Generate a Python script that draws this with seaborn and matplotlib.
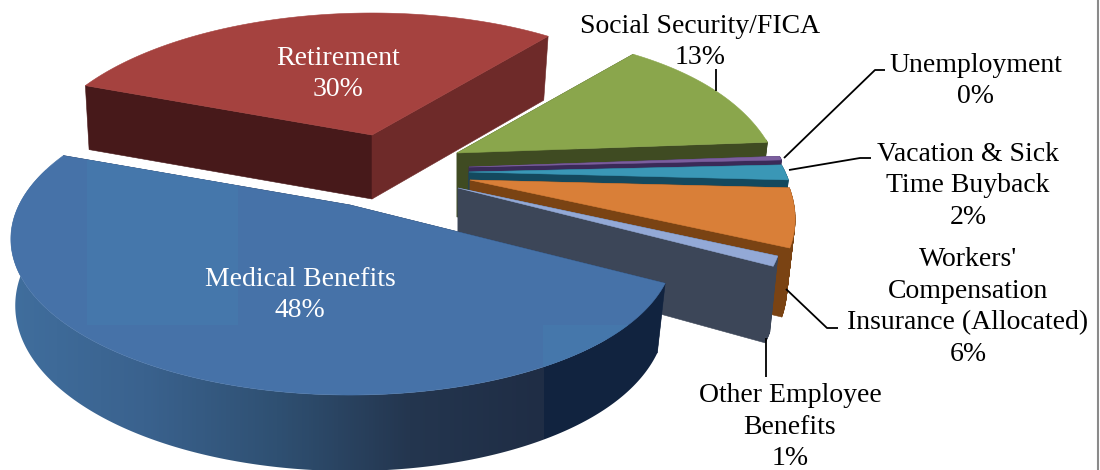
import numpy as np
import matplotlib
matplotlib.use("Agg")
import matplotlib.pyplot as plt
from matplotlib.collections import PolyCollection
from matplotlib.colors import to_rgb
from matplotlib.patches import Polygon, Rectangle
import seaborn as sns

# Share of employee benefit costs, percent (clockwise from Social Security)
categories = ["Social Security/FICA", "Unemployment", "Vacation & Sick\nTime Buyback",
              "Workers'\nCompensation\nInsurance (Allocated)",
              "Other Employee\nBenefits", "Medical Benefits", "Retirement"]
shares = [13, 0.4, 1.6, 6, 1, 48, 30]

top_colors = ["#8AA64C", "#7B5E9E", "#3A97B6", "#D97F38", "#93A9D6", "#4672A8", "#A5423F"]
face_colors = ["#3F4B22", "#3A2A58", "#14495E", "#7A4313", "#3C4658", "#1B2C48", "#47191A"]
rim_colors = ["#3F4B22", "#3A2A58", "#14495E", "#7A4313", "#3C4658", "#1B2C48", "#6E2A29"]

# Layout of the exploded pie
START_ANGLE = -51.0      # degrees, clockwise on screen from the +x ground axis
RADIUS_X, RADIUS_Y = 331.0, 148.6
PERSPECTIVE = 0.218
PIE_CENTER = (440.0, 170.0)
explode = [(17, -17), (29, -3), (29, 2), (30, 10), (18, 18), (-90, 35), (-68, -35)]
depth_scale = [1.0, 1.0, 1.0, 1.0, 1.1, 1.0, 1.0]
draw_order = [6, 0, 1, 2, 3, 4, 5]
BLUE = categories.index("Medical Benefits")
RED = categories.index("Retirement")


def project(angle_deg, apex):
    """Map ground-plane angles on the unit circle to screen positions."""
    t = np.radians(angle_deg)
    gx, gy = np.cos(t), np.sin(t)
    w = 1.0 / (1.0 - PERSPECTIVE * gy)
    # The far right of the pie is foreshortened a little
    squeeze = 1.0 - 0.045 * np.maximum(gx, 0.0) ** 3
    return apex[0] + RADIUS_X * gx * w * squeeze, apex[1] + RADIUS_Y * gy * w, gy


def thickness(gy, scale):
    return scale * (64.0 + 12.0 * np.maximum(gy, 0.0))


sns.set_theme(style="white")
plt.rcParams["font.family"] = ["Liberation Serif", "DejaVu Serif"]

fig = plt.figure(figsize=(11.0, 4.7), dpi=100, facecolor="white")
ax = fig.add_axes([0, 0, 1, 1])
ax.set_xlim(0, 1100)
ax.set_ylim(470, 0)
ax.axis("off")

# Side shading of the largest slice runs from mid blue to navy across the page
ramp_left = sns.blend_palette(["#406E9D", "#3A628E", "#2F5072", "#24364F", "#1F2D45"], 533)
ramp_right = [to_rgb("#11233F")] * 150
rim_ramp = np.array([list(ramp_left) + ramp_right])

edges = np.concatenate([[0], np.cumsum(shares)]) / np.sum(shares) * 360.0 + START_ANGLE

for i in draw_order:
    layer = 10 + draw_order.index(i)
    apex = (PIE_CENTER[0] + explode[i][0], PIE_CENTER[1] + explode[i][1])
    angles = np.linspace(edges[i], edges[i + 1], max(int(edges[i + 1] - edges[i]) * 2, 6))
    x, y, gy = project(angles, apex)
    d = thickness(gy, depth_scale[i])
    low_x = apex[0] + (x - apex[0]) * np.where(x > apex[0], 0.975, 0.987)
    low_y = y + d
    apex_d = thickness(0.0, depth_scale[i])

    # Flat cut faces towards the apex
    for k, col in ((0, face_colors[i]), (-1, rim_colors[i] if i == RED else face_colors[i])):
        ax.fill([apex[0], x[k], low_x[k], apex[0]],
                [apex[1], y[k], low_y[k], apex[1] + apex_d],
                color=col, lw=0.4, zorder=layer)

    # Curved outer wall, only where it turns towards the viewer
    if i == BLUE:
        front = np.sin(np.radians(angles)) >= -0.25
        wall = Polygon(np.c_[np.r_[x[front], low_x[front][::-1]],
                             np.r_[y[front], low_y[front][::-1]]],
                       closed=True, facecolor="none", edgecolor="none", zorder=layer)
        ax.add_patch(wall)
        image = ax.imshow(rim_ramp, extent=(11, 694, 470, 0), aspect="auto",
                          interpolation="nearest", zorder=layer + 0.2)
        image.set_clip_path(wall)
        ax.set_xlim(0, 1100)
        ax.set_ylim(470, 0)
    else:
        front = np.sin(np.radians(angles)) >= -0.1
        quads = [[(x[k], y[k]), (x[k + 1], y[k + 1]),
                  (low_x[k + 1], low_y[k + 1]), (low_x[k], low_y[k])]
                 for k in range(len(angles) - 1) if front[k]]
        if quads:
            ax.add_collection(PolyCollection(quads, facecolors=rim_colors[i],
                                             edgecolors=rim_colors[i], linewidths=0.5,
                                             zorder=layer + 0.2))

    # Top surface
    top = ax.fill(np.r_[apex[0], x], np.r_[apex[1], y], color=top_colors[i], lw=0.4,
                  zorder=layer + 0.4)[0]

    if i == BLUE:
        # Slightly lighter bands in the top surface shading
        for rx, ry, rw, rh in ((87, 157, 151, 168), (543, 325, 120, 80)):
            band = Rectangle((rx, ry), rw, rh, color="#4577AB", lw=0, zorder=layer + 0.5)
            ax.add_patch(band)
            band.set_clip_path(top)

# Slice labels, name above rounded percentage
label_pos = [(700, 42), (976, 81), (968, 186), (968, 307), (790, 427), (300, 295), (338, 74)]
label_color = ["black", "black", "black", "black", "black", "white", "white"]
for name, share, (lx, ly), col in zip(categories, shares, label_pos, label_color):
    ax.text(lx, ly, f"{name}\n{share:.0f}%", ha="center", va="center", color=col,
            fontsize=20, linespacing=1.36, zorder=40)

# Leader lines from the outer labels to their slices
leaders = [[(716, 69), (716, 91)],
           [(784, 158), (875, 70), (885, 70)],
           [(789, 170), (860, 158), (871, 158)],
           [(786, 289), (827, 328), (838, 328)],
           [(766, 338), (766, 377)]]
for path in leaders:
    px, py = zip(*path)
    ax.plot(px, py, color="black", lw=1.3, solid_capstyle="butt", zorder=35)

ax.axvline(1098, color="#8A8A8A", lw=1.5, zorder=5)

fig.savefig("out.png", dpi=100, facecolor="white")
